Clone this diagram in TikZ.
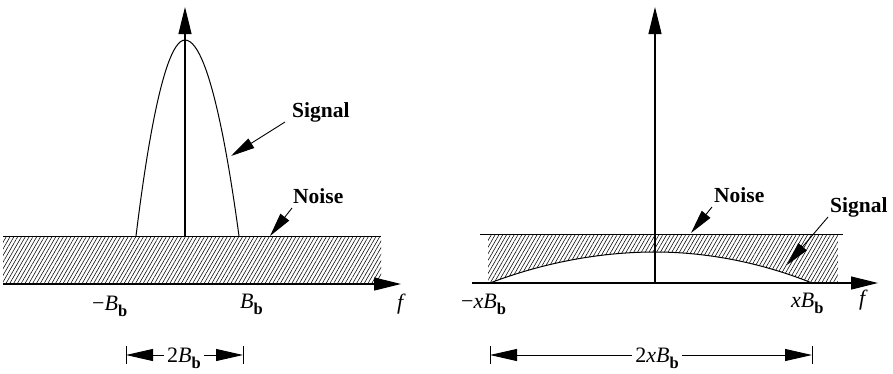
\documentclass[tikz,border=0pt]{standalone}
\usepackage{fontspec}
\setmainfont{Liberation Serif}
\usetikzlibrary{arrows.meta,patterns.meta}
\newcommand\Bsubb{\textit{B}\raisebox{-0.3em}{\fontsize{16.5}{16.5}\selectfont\bfseries b}}
\begin{document}
\begin{tikzpicture}[x=1pt,y=-1pt,
 lbl/.style={font=\fontsize{21.5}{24}\selectfont\bfseries, inner sep=0pt, anchor=base west},
 mlbl/.style={font=\fontsize{22}{24}\selectfont, inner sep=0pt, anchor=base west},
 dimtext/.style={font=\fontsize{22}{24}\selectfont, fill=white, inner xsep=3pt, inner ysep=1pt, anchor=base},
 axisarrow/.style={line width=1.2pt, -{Triangle[length=27pt,width=13pt]}},
 ptr/.style={line width=0.9pt, -{Triangle[length=24pt,width=11pt]}},
 dimline/.style={line width=0.9pt, {Triangle[length=27pt,width=12pt]}-{Triangle[length=27pt,width=12pt]}},
 tick/.style={line width=0.9pt},
 curve/.style={line width=1pt},
 hatch/.style={pattern={Lines[angle=60,distance=3.3pt,line width=0.55pt]}}
]
\useasboundingbox (0,0) rectangle (893,373);

% ---------- left panel ----------
\fill[hatch] (3,236) rectangle (381,284);
\coordinate (LnA) at (3,236);
\coordinate (LnB) at (381,236);
\draw[curve] (LnA) -- (LnB);
\coordinate (Lh0) at (3,284);
\coordinate (Lh1) at (401,284);
\draw[axisarrow] (Lh0) -- (Lh1);
\coordinate (Lv0) at (185,236);
\coordinate (Lv1) at (185,7);
\draw[axisarrow] (Lv0) -- (Lv1);
\draw[curve] (136,236) parabola bend (185,40) (239,236);

\node[lbl] (sigL) at (292,117) {Signal};
\node[lbl] (noiL) at (293,203) {Noise};
\coordinate (sigLt) at (285,122);
\coordinate (sigLh) at (231,156);
\draw[ptr] (sigLt) -- (sigLh);
\coordinate (noiLt) at (292,208);
\coordinate (noiLh) at (270,236);
\draw[ptr] (noiLt) -- (noiLh);

\node[mlbl] (mBL) at (92,310) {−\Bsubb};
\node[mlbl] (BL) at (240,308) {\Bsubb};
\node[mlbl] (fL) at (397,309) {\textit{f}};

\coordinate (dL0) at (126,355);
\coordinate (dL1) at (243,355);
\draw[dimline] (dL0) -- (dL1);
\draw[tick] (126,346) -- (126,364);
\draw[tick] (243,346) -- (243,364);
\node[dimtext] (dLt) at (184,362) {2\Bsubb};

% ---------- right panel ----------
\fill[hatch] (488,283) -- (488,234) -- (838,234) -- (838,283) -- (812,283)
  parabola bend (655,252) (490,283) -- cycle;
\coordinate (RnA) at (480,234);
\coordinate (RnB) at (843,234);
\draw[curve] (RnA) -- (RnB);
\draw[curve] (490,283) parabola bend (655,252) (812,283);
\coordinate (Rh0) at (472,283);
\coordinate (Rh1) at (878,283);
\draw[axisarrow] (Rh0) -- (Rh1);
\coordinate (Rv0) at (655,283);
\coordinate (Rv1) at (655,7);
\draw[axisarrow] (Rv0) -- (Rv1);

\node[lbl] (noiR) at (714,202) {Noise};
\node[lbl] (sigR) at (830,212) {Signal};
\coordinate (noiRt) at (712,207);
\coordinate (noiRh) at (691,233);
\draw[ptr] (noiRt) -- (noiRh);
\coordinate (sigRt) at (828,217);
\coordinate (sigRh) at (787,265);
\draw[ptr] (sigRt) -- (sigRh);

\node[mlbl] (mxBR) at (461,308) {−\textit{x}\Bsubb};
\node[mlbl] (xBR) at (791,307) {\textit{x}\Bsubb};
\node[mlbl] (fR) at (859,305) {\textit{f}};

\coordinate (dR0) at (490,355);
\coordinate (dR1) at (812,355);
\draw[dimline] (dR0) -- (dR1);
\draw[tick] (490,346) -- (490,364);
\draw[tick] (812,346) -- (812,364);
\node[dimtext] (dRt) at (657,362) {2\textit{x}\Bsubb};
\end{tikzpicture}
\end{document}
